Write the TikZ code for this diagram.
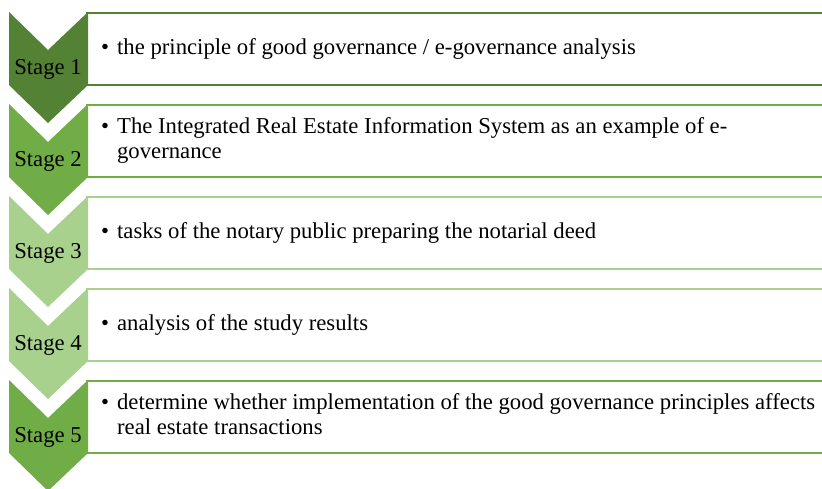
\documentclass[tikz,border=0pt]{standalone}
\usepackage{fontspec}
\setmainfont{Liberation Serif}
\definecolor{gdark}{HTML}{548235}
\definecolor{gmid}{HTML}{70AD47}
\definecolor{glight}{HTML}{A9D18E}
\tikzset{every node/.style={inner sep=0pt, font=\fontsize{22.7}{25}\selectfont},
  stagebox/.style={line width=1.6pt, fill=white},
  stagelabel/.style={anchor=center},
  itemtext/.style={anchor=west, align=left}}
\newcommand{\chev}[2]{% colour, top
  \fill[#1] (9,#2) -- (48,#2+38) -- (88,#2) -- (88,#2+73) -- (48,#2+111) -- (9,#2+73) -- cycle;}

\begin{document}
\begin{tikzpicture}[x=1pt,y=-1pt]
  \useasboundingbox (0,0) rectangle (822,488);
  % boxes
  \draw[stagebox,draw=gdark ] (87, 13) rectangle (830, 85);
  \draw[stagebox,draw=gmid  ] (87,105) rectangle (830,177);
  \draw[stagebox,draw=glight] (87,197) rectangle (830,269);
  \draw[stagebox,draw=glight] (87,289) rectangle (830,361);
  \draw[stagebox,draw=gmid  ] (87,381) rectangle (830,453);
  % chevrons
  \chev{gdark}{12}
  \chev{gmid}{104}
  \chev{glight}{196}
  \chev{glight}{288}
  \chev{gmid}{380}
  \node[stagelabel] (s1) at (48, 69) {Stage 1};
  \node[stagelabel] (s2) at (48,161) {Stage 2};
  \node[stagelabel] (s3) at (48,253) {Stage 3};
  \node[stagelabel] (s4) at (48,345) {Stage 4};
  \node[stagelabel] (s5) at (48,437) {Stage 5};
  % texts
  \node[itemtext] (t1) at (101, 49) {\begin{tabular}{@{}l@{\hspace{8pt}}l@{}}\textbullet & the principle of good governance / e-governance analysis\end{tabular}};
  \node[itemtext] (t2) at (101,141) {\begin{tabular}{@{}l@{\hspace{8pt}}l@{}}\textbullet & The Integrated Real Estate Information System as an example of e-\\ & governance\end{tabular}};
  \node[itemtext] (t3) at (101,233) {\begin{tabular}{@{}l@{\hspace{8pt}}l@{}}\textbullet & tasks of the notary public preparing the notarial deed\end{tabular}};
  \node[itemtext] (t4) at (101,325) {\begin{tabular}{@{}l@{\hspace{8pt}}l@{}}\textbullet & analysis of the study results\end{tabular}};
  \node[itemtext] (t5) at (101,417) {\begin{tabular}{@{}l@{\hspace{8pt}}l@{}}\textbullet & determine whether implementation of the good governance principles affects\\ & real estate transactions\end{tabular}};
\end{tikzpicture}
\end{document}
